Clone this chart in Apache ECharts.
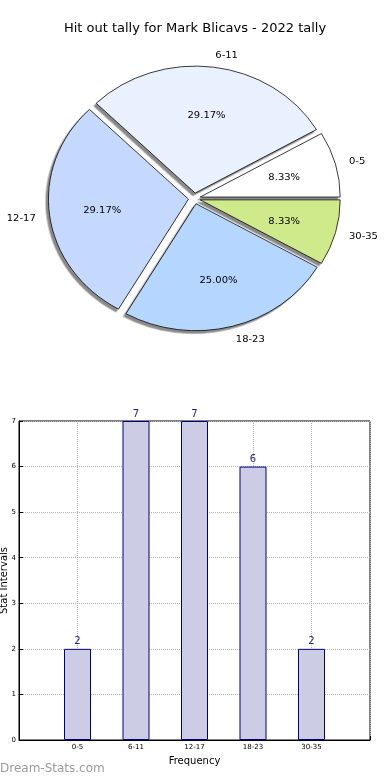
<!DOCTYPE html>
<html><head><meta charset="utf-8">
<script src="https://cdn.jsdelivr.net/npm/echarts@6/dist/echarts.min.js"></script>
<style>
html,body{margin:0;padding:0;background:#fff;}
#main{position:absolute;left:0;top:0;width:390px;height:780px;}
#pie{position:absolute;left:0;top:0;width:390px;height:440px;transform:scaleY(0.907);transform-origin:0 0;}
</style></head><body>
<div id="main"></div><div id="pie"></div>
<script>
const titleText = 'Hit out tally for Mark Blicavs - 2022 tally';
const categories = ['0-5', '6-11', '12-17', '18-23', '30-35'];
const tally = [2, 7, 7, 6, 2];
const sliceColors = ['#ffffff', '#e9f1ff', '#c5d9ff', '#b5d7ff', '#cfea8b'];
const yTicks = [0, 1, 2, 3, 4, 5, 6, 7];
const xAxisTitle = 'Frequency';
const yAxisTitle = 'Stat Intervals';
const watermark = 'Dream-Stats.com';

const FONT = 'DejaVu Sans';
const total = tally.reduce((a, b) => a + b, 0);

// ---------- Pie ----------
const pie = echarts.init(document.getElementById('pie'), null, {renderer: 'svg'});
const sliceData = categories.map((c, i) => ({
  name: c, value: tally[i], selected: true,
  itemStyle: {color: sliceColors[i]}
}));
const pctData = categories.map((c, i) => ({name: c, value: tally[i], selected: true}));
const shadowStyle = {
  borderColor: '#000', borderWidth: 0.8,
  shadowBlur: 1, shadowOffsetX: -2.5, shadowOffsetY: 3,
  shadowColor: 'rgba(40,40,40,0.55)'
};
pie.setOption({
  animation: false,
  backgroundColor: 'transparent',
  series: [{
    type: 'pie', center: [194.4, 218.8], radius: 140,
    startAngle: 0, clockwise: false,
    selectedMode: 'multiple', selectedOffset: 6,
    avoidLabelOverlap: false, silent: true,
    itemStyle: shadowStyle,
    select: {itemStyle: shadowStyle, label: {show: true}},
    emphasis: {disabled: true},
    label: {show: true, position: 'outside', fontFamily: FONT, fontSize: 10, color: '#000',
            distanceToLabelLine: 0, overflow: 'none'},
    labelLine: {show: false, length: 14, length2: 0},
    data: sliceData
  }, {
    type: 'pie', center: [194.4, 218.8], radius: [28, 140],
    startAngle: 0, clockwise: false,
    selectedMode: 'multiple', selectedOffset: 6,
    avoidLabelOverlap: false, silent: true,
    itemStyle: {color: 'rgba(0,0,0,0)', borderWidth: 0},
    select: {itemStyle: {color: 'rgba(0,0,0,0)', borderWidth: 0}},
    emphasis: {disabled: true},
    label: {show: true, position: 'inside', fontFamily: FONT, fontSize: 10, color: '#000',
            formatter: p => (p.value / total * 100).toFixed(2) + '%'},
    labelLine: {show: false},
    data: pctData
  }]
});

// ---------- Bar + title ----------
const main = echarts.init(document.getElementById('main'));
main.setOption({
  animation: false,
  backgroundColor: '#fff',
  textStyle: {fontFamily: FONT},
  title: {
    text: titleText, left: 'center', top: 17,
    textStyle: {fontFamily: FONT, fontSize: 13, fontWeight: 'normal', color: '#000'}
  },
  graphic: [{
    type: 'text', left: 0, top: 763,
    style: {text: watermark, fontFamily: FONT, fontSize: 12, fill: '#9a9a9a'}
  }, {
    type: 'text', x: 4, y: 580.5, rotation: Math.PI / 2,
    style: {text: yAxisTitle, fontFamily: FONT, fontSize: 10, fill: '#000',
            align: 'center', verticalAlign: 'middle'}
  }],
  grid: {left: 19, right: 20, top: 421, bottom: 40, show: true, borderColor: '#000', borderWidth: 1,
         containLabel: false, outerBoundsMode: 'none'},
  xAxis: {
    type: 'value', min: -1, max: categories.length, interval: 1,
    name: xAxisTitle, nameLocation: 'middle', nameGap: 16,
    nameTextStyle: {fontFamily: FONT, fontSize: 10, color: '#000'},
    axisLine: {show: true, onZero: false, lineStyle: {color: '#000'}},
    axisTick: {show: true, inside: true, length: 4, lineStyle: {color: '#000'}},
    axisLabel: {formatter: v => categories[v] || '', fontFamily: FONT, fontSize: 7, color: '#000', margin: 4},
    splitLine: {show: true, lineStyle: {color: '#b0b0b0', type: 'dotted', width: 1}}
  },
  yAxis: {
    type: 'value', min: yTicks[0], max: yTicks[yTicks.length - 1], interval: 1,
    axisLine: {show: true, onZero: false, lineStyle: {color: '#000'}},
    axisTick: {show: true, inside: true, length: 4, lineStyle: {color: '#000'}},
    axisLabel: {fontFamily: FONT, fontSize: 7, color: '#000', margin: 3},
    splitLine: {show: true, lineStyle: {color: '#b0b0b0', type: 'dotted', width: 1}}
  },
  series: [{
    type: 'bar', barWidth: 27,
    itemStyle: {color: '#cccce5', borderColor: '#000080', borderWidth: 1},
    label: {show: true, position: 'top', distance: 2, fontFamily: FONT, fontSize: 10, color: '#1c1c8c'},
    data: categories.map((c, i) => [i, tally[i]])
  }]
});
</script>
</body></html>
